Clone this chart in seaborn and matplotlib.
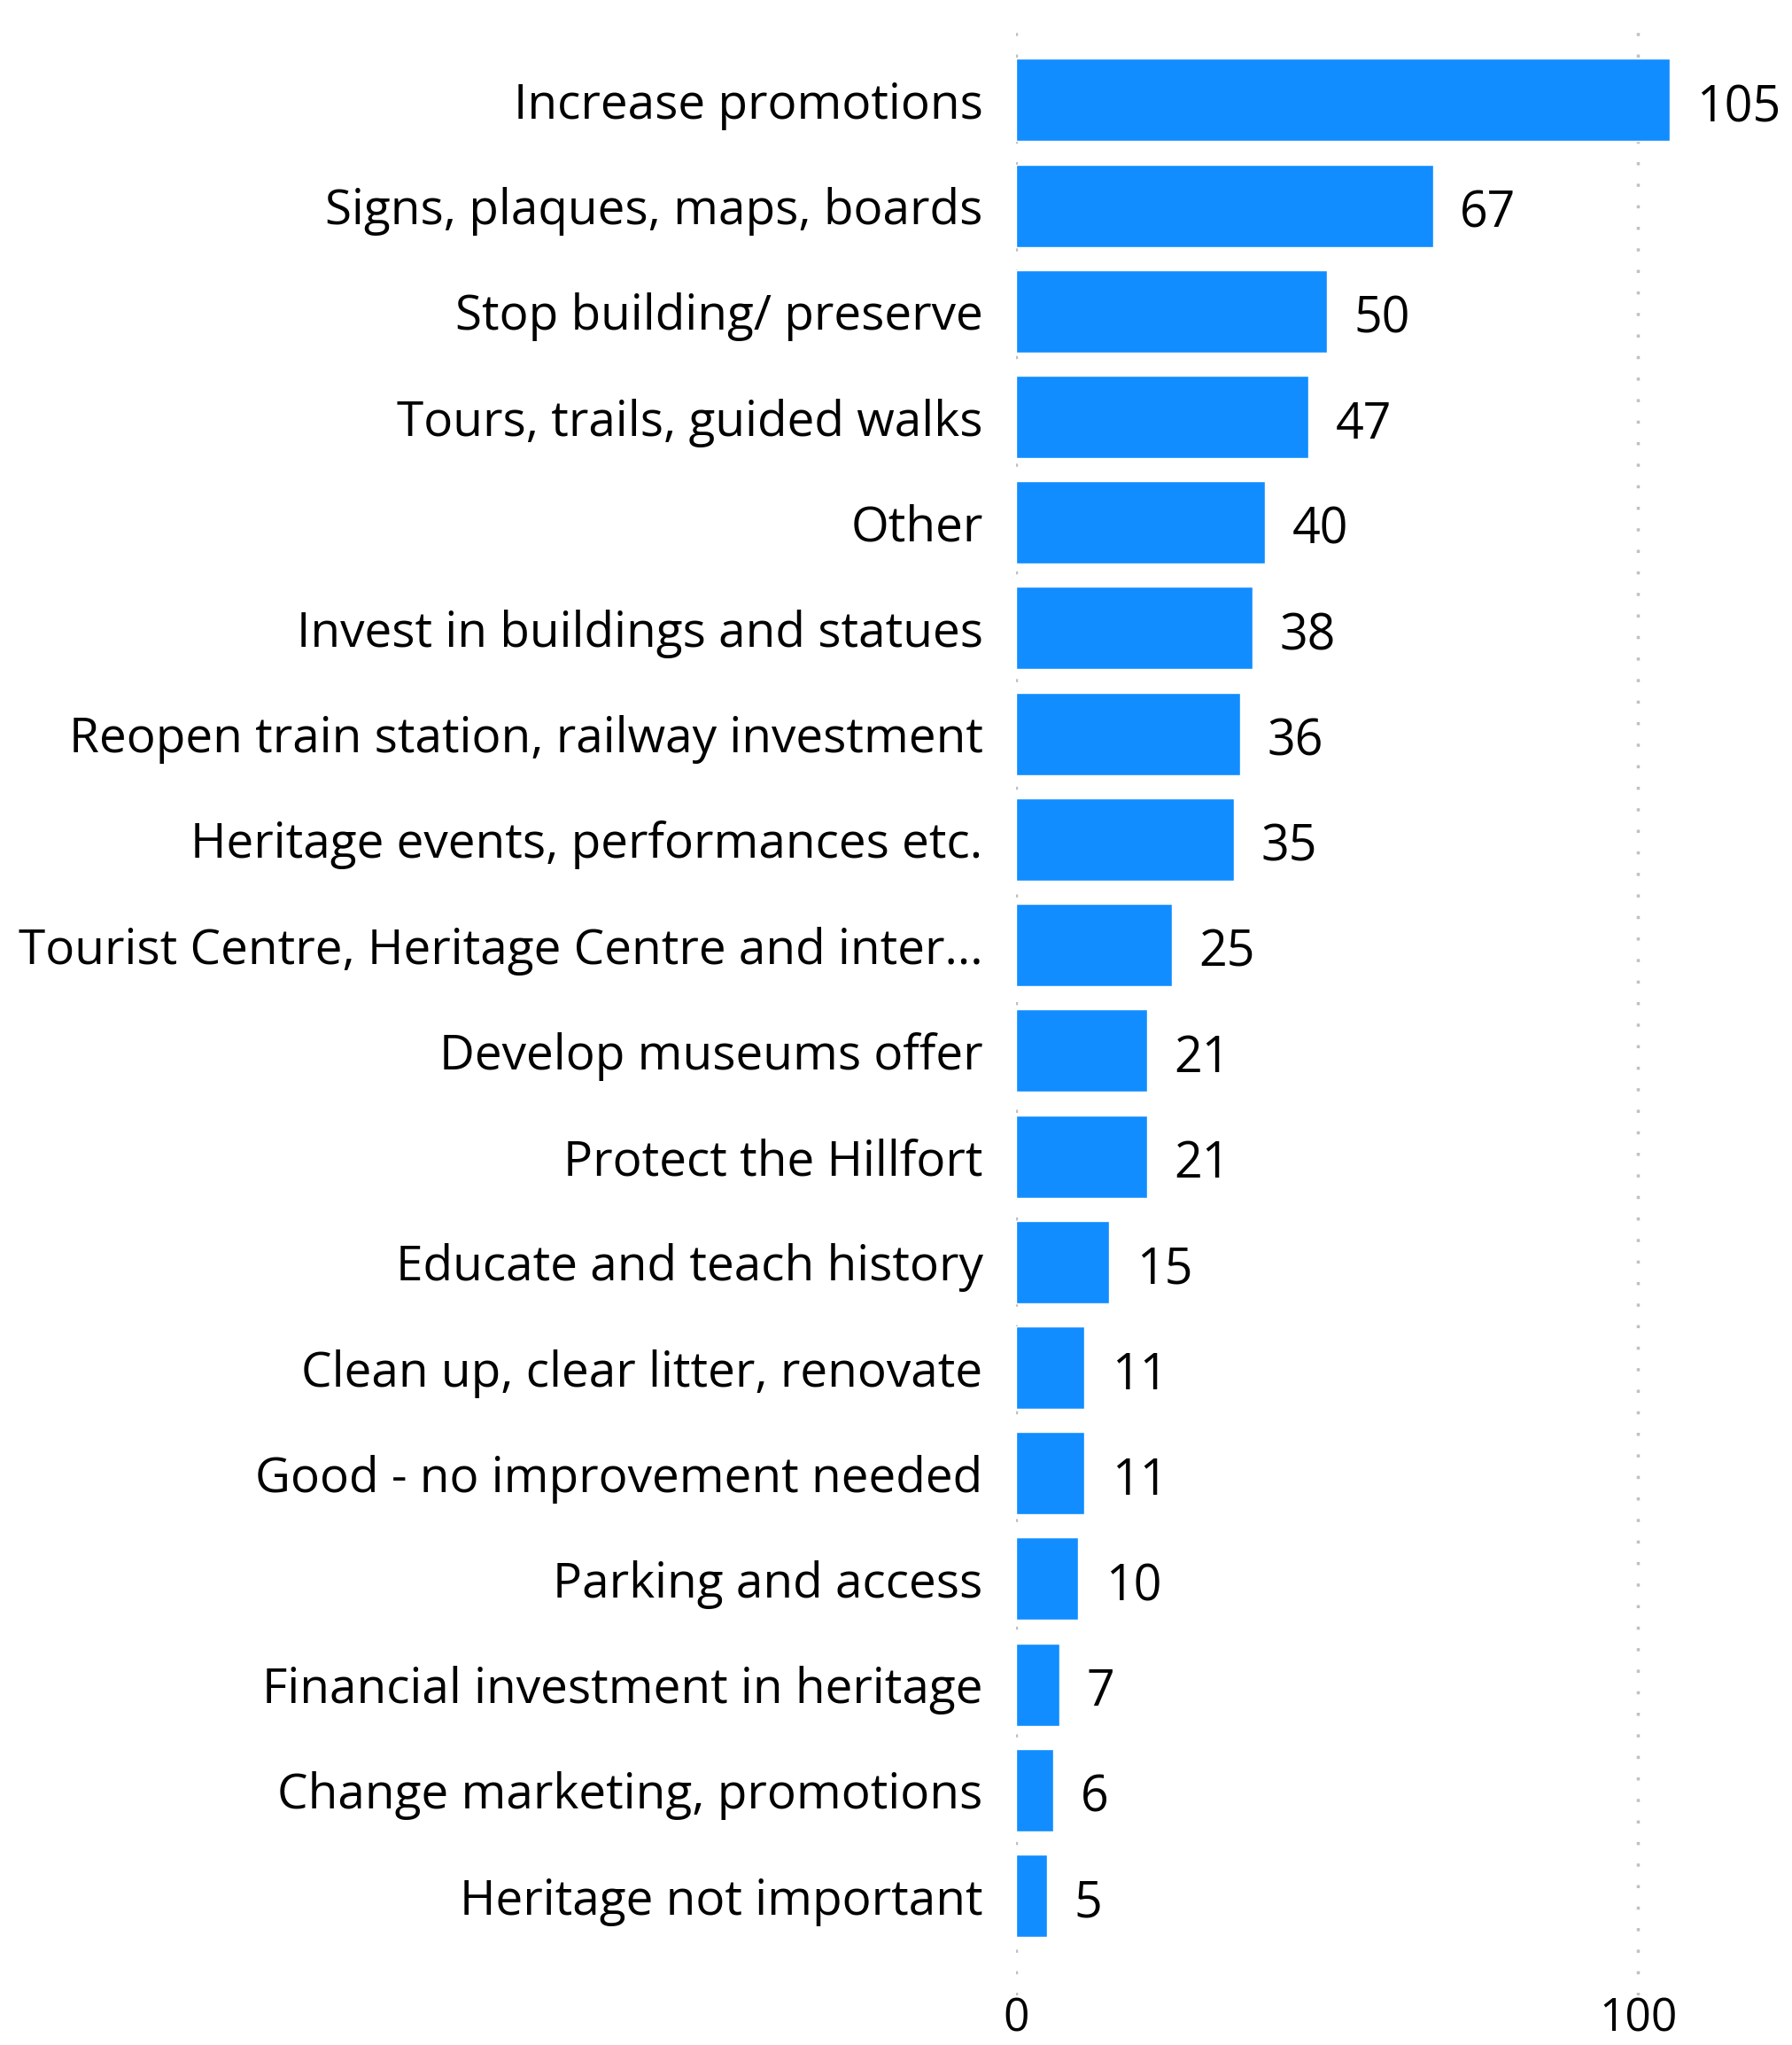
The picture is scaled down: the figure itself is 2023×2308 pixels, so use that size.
import matplotlib.pyplot as plt
import seaborn as sns
import pandas as pd

# Daten
categories = [
    "Increase promotions",
    "Signs, plaques, maps, boards",
    "Stop building/ preserve",
    "Tours, trails, guided walks",
    "Other",
    "Invest in buildings and statues",
    "Reopen train station, railway investment",
    "Heritage events, performances etc.",
    "Tourist Centre, Heritage Centre and inter...",
    "Develop museums offer",
    "Protect the Hillfort",
    "Educate and teach history",
    "Clean up, clear litter, renovate",
    "Good - no improvement needed",
    "Parking and access",
    "Financial investment in heritage",
    "Change marketing, promotions",
    "Heritage not important",
]
counts = [105, 67, 50, 47, 40, 38, 36, 35, 25, 21, 21, 15, 11, 11, 10, 7, 6, 5]
x_ticks = [0, 100]

df = pd.DataFrame({'category': categories, 'count': counts})

sns.set_style("white")
plt.rcParams['font.family'] = ['Open Sans', 'DejaVu Sans']

fig = plt.figure(figsize=(20.23, 23.08), dpi=100)
ax = fig.add_axes([0.567, 0.0242, 0.433, 0.968])

sns.barplot(data=df, y='category', x='count', orient='h', color='#118DFF',
            saturation=1, width=0.78, ax=ax)

ax.set_xlim(0, 124.7)
ax.set_ylim(len(categories) - 1 + 0.944, -0.796)

# Gitterlinien gepunktet
ax.set_xticks(x_ticks)
ax.grid(axis='x', color='#C0C0C0', linewidth=2.5, linestyle=(0, (1, 6)))
ax.set_axisbelow(True)
for s in ax.spines.values():
    s.set_visible(False)

ax.tick_params(axis='x', length=0, pad=1, labelsize=37, labelcolor='#000000')
ax.tick_params(axis='y', length=0, pad=27, labelsize=39.5, labelcolor='#000000')
ax.set_xlabel('')
ax.set_ylabel('')

# Werte rechts neben den Balken
for p in ax.patches:
    w = p.get_width()
    ax.annotate(f'{int(w)}', (w, p.get_y() + p.get_height() / 2),
                xytext=(22, -7), textcoords='offset points',
                ha='left', va='center', fontsize=40, color='#000000')

fig.savefig('out.png', dpi=100)
